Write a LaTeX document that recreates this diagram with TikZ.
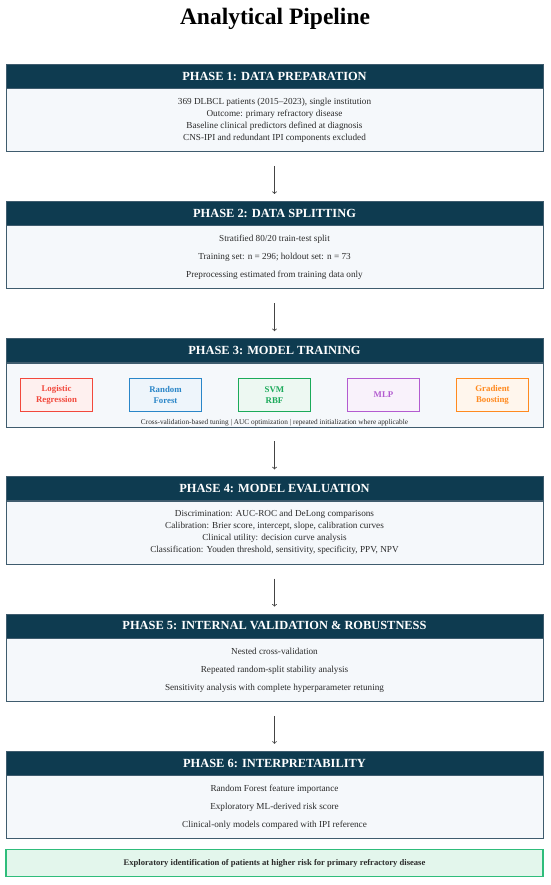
\documentclass[tikz,border=0pt]{standalone}
\usepackage{fontspec}
\setmainfont{Liberation Serif}
\usepackage{tikz}
\usetikzlibrary{shapes.geometric, arrows, positioning, calc}

\definecolor{headblue}{HTML}{0E3B50}
\definecolor{framegray}{HTML}{3F5C6E}
\definecolor{bodygray}{HTML}{F5F8FB}
\definecolor{textgray}{HTML}{2B2B2B}
\definecolor{arrowgray}{HTML}{444444}
\definecolor{lrred}{HTML}{F2483C}
\definecolor{rfblue}{HTML}{2A86C8}
\definecolor{svmgreen}{HTML}{1BAA5A}
\definecolor{mlppurple}{HTML}{B35BD0}
\definecolor{gborange}{HTML}{FF8A1F}
\definecolor{endgreen}{HTML}{2FBD7B}
\definecolor{endfill}{HTML}{E3F6EC}

\begin{document}
\begin{tikzpicture}[node distance=49pt, auto]
    % Styles
    \tikzstyle{head} = [rectangle, draw=framegray, fill=headblue, text=white,
                        font=\bfseries\fontsize{12.4}{14}\selectfont,
                        minimum width=537pt, minimum height=24pt, inner sep=0pt]
    \tikzstyle{body} = [rectangle, draw=framegray, line width=0.8pt, fill=bodygray, text=textgray,
                        align=center, font=\fontsize{9.2}{12}\selectfont,
                        minimum width=537pt, minimum height=63pt, inner sep=0pt]
    \tikzstyle{wide} = [font=\fontsize{9.2}{18}\selectfont]
    \tikzstyle{model} = [rectangle, draw, line width=1.4pt, align=center,
                        font=\bfseries\fontsize{8.8}{11.5}\selectfont,
                        minimum width=72pt, minimum height=33pt, inner sep=0pt]
    \tikzstyle{link} = [->, draw=arrowgray, line width=0.8pt, shorten <=14pt, shorten >=7pt]

    \useasboundingbox (0,0) rectangle (550pt,-885pt);

    % Title
    \node[anchor=base, font=\bfseries\fontsize{23.5}{28}\selectfont] at (275pt,-25pt) (title) {Analytical Pipeline};

    % Phase 1
    \node at (274.5pt,-76pt) [head] (h1) {PHASE 1: DATA PREPARATION};
    \node [body, below=0pt of h1] (b1) {369 DLBCL patients (2015–2023), single institution\\
        Outcome: primary refractory disease\\
        Baseline clinical predictors defined at diagnosis\\
        CNS-IPI and redundant IPI components excluded};

    % Phase 2
    \node [head, below=of b1] (h2) {PHASE 2: DATA SPLITTING};
    \node [body, wide, below=0pt of h2] (b2) {Stratified 80/20 train-test split\\
        Training set: n = 296; holdout set: n = 73\\
        Preprocessing estimated from training data only};

    % Phase 3
    \node [head, below=of b2] (h3) {PHASE 3: MODEL TRAINING};
    \node [body, minimum height=64pt, below=0pt of h3] (b3) {};
    \node [model, draw=svmgreen, text=svmgreen, fill=svmgreen!8] at (b3.center) (svm) {SVM\\RBF};
    \node [model, draw=rfblue, text=rfblue, fill=rfblue!8, left=35.6pt of svm] (rf) {Random\\Forest};
    \node [model, draw=lrred, text=lrred, fill=lrred!8, left=35.6pt of rf] (lr) {Logistic\\Regression};
    \node [model, draw=mlppurple, text=mlppurple, fill=mlppurple!8, right=35.6pt of svm] (mlp) {MLP};
    \node [model, draw=gborange, text=gborange, fill=gborange!8, right=35.6pt of mlp] (gb) {Gradient\\Boosting};
    \node [above=0pt of b3.south, inner sep=1.5pt, text=textgray, font=\fontsize{7.3}{8}\selectfont] (cap)
        {Cross-validation-based tuning | AUC optimization | repeated initialization where applicable};

    % Phase 4
    \node [head, below=of b3] (h4) {PHASE 4: MODEL EVALUATION};
    \node [body, below=0pt of h4] (b4) {Discrimination: AUC-ROC and DeLong comparisons\\
        Calibration: Brier score, intercept, slope, calibration curves\\
        Clinical utility: decision curve analysis\\
        Classification: Youden threshold, sensitivity, specificity, PPV, NPV};

    % Phase 5
    \node [head, below=of b4] (h5) {PHASE 5: INTERNAL VALIDATION \& ROBUSTNESS};
    \node [body, wide, below=0pt of h5] (b5) {Nested cross-validation\\
        Repeated random-split stability analysis\\
        Sensitivity analysis with complete hyperparameter retuning};

    % Phase 6
    \node [head, below=of b5] (h6) {PHASE 6: INTERPRETABILITY};
    \node [body, wide, below=0pt of h6] (b6) {Random Forest feature importance\\
        Exploratory ML-derived risk score\\
        Clinical-only models compared with IPI reference};

    % Outcome
    \node [rectangle, draw=endgreen, line width=1.1pt, fill=endfill, minimum width=537pt, minimum height=27pt,
           inner sep=0pt, text=textgray, font=\bfseries\fontsize{8.6}{10}\selectfont, below=10pt of b6] (out)
        {Exploratory identification of patients at higher risk for primary refractory disease};

    % Connections
    \draw[link] (b1) -- (h2);
    \draw[link] (b2) -- (h3);
    \draw[link] (b3) -- (h4);
    \draw[link] (b4) -- (h5);
    \draw[link] (b5) -- (h6);
\end{tikzpicture}
\end{document}
